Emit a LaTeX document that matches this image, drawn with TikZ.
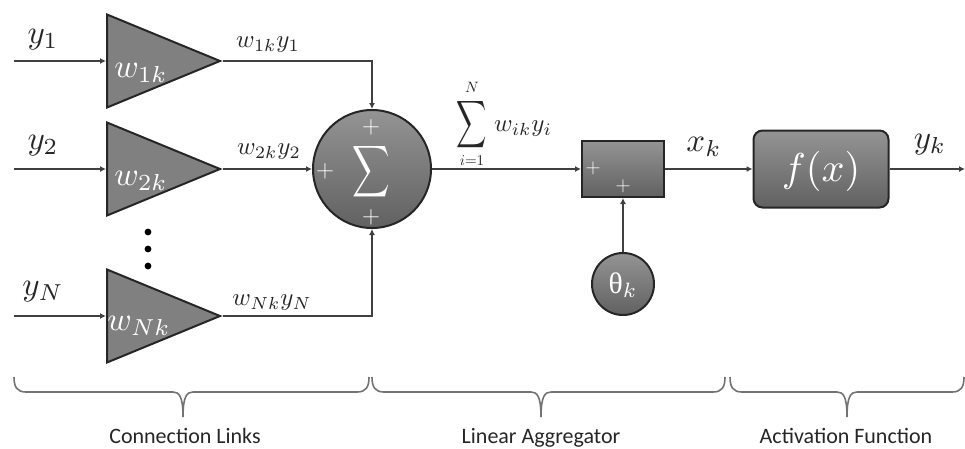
\documentclass[tikz,border=0pt]{standalone}
\usepackage{fontspec}
\usetikzlibrary{arrows.meta,shapes.geometric}
\newfontfamily\captionfont{Carlito}
\newfontfamily\thetafont{Liberation Serif}
\newcommand{\bracepath}[3]{%
    (#1,377) .. controls (#1,387) and (#1+3,392) .. (#1+12,392)
    -- (#2-10,392) .. controls (#2-4,392) and (#2,396) .. (#2,417)
    .. controls (#2,396) and (#2+4,392) .. (#2+10,392)
    -- (#3-12,392) .. controls (#3-3,392) and (#3,387) .. (#3,377)
}
\tikzset{
    block/.style={draw=black!85, line width=2pt, top color=black!42, bottom color=black!62, text=black!8, inner sep=0pt},
    amp/.style={block, top color=black!50, bottom color=black!50, isosceles triangle, isosceles triangle stretches, shape border rotate=0, minimum width=93pt, minimum height=113pt, anchor=lower side},
    wire/.style={draw=black!75, line width=1.4pt, -{Latex[length=6pt,width=6pt]}},
    inside/.style={text=white, inner sep=0pt, scale=3.3},
    outside/.style={text=black!85, inner sep=0pt, scale=3.3},
    gainlabel/.style={text=black!85, inner sep=0pt, scale=2.5},
    smalllabel/.style={text=black!85, inner sep=0pt, scale=1.5},
    plussign/.style={text=white, inner sep=0pt, font=\fontsize{24}{24}\selectfont},
    caption/.style={text=black!85, inner sep=0pt, anchor=base, font=\captionfont\fontsize{22}{22}\selectfont},
    bracket/.style={draw=black!55, line width=1.6pt},
}
\begin{document}
\begin{tikzpicture}[x=1pt, y=-1pt]
    \useasboundingbox (0,0) rectangle (965,448);

    % Connection links
    \foreach \idx/\yy/\lbly/\gainx/\gainy/\wx/\wy in {
        1/61/40/268/45/141/73,
        2/169/146/269/152/141/181,
        N/316/292/272/303/139/326
    } {
        \node[amp] (amp\idx) at (106,\yy) {};
        \coordinate (in\idx) at (14,\yy);
        \draw[wire] (in\idx) -- (amp\idx.lower side);
        \node[outside] (input\idx) at (43,\lbly) {$y_{\idx}$};
        \node[inside] (weight\idx) at (\wx,\wy) {$w_{\idx k}$};
        \node[gainlabel] (gain\idx) at (\gainx,\gainy) {$w_{\idx k}y_{\idx}$};
    }
    \foreach \yy [count=\i] in {232,249,266} {
        \fill (148,\yy) circle (3.4pt);
    }

    % Linear aggregator
    \node[block, circle, minimum size=118pt] (sum) at (372,169) {};
    \node[text=white, inner sep=0pt, xscale=2.6, yscale=3.6] (sumsign) at (371,172) {$\displaystyle\sum$};
    \node[plussign] (plustop) at (371,127) {$+$};
    \node[plussign] (plusleft) at (325,171) {$+$};
    \node[plussign] (plusbottom) at (371,217) {$+$};
    \draw[wire] (amp1.apex) -| (sum.north);
    \draw[wire] (amp2.apex) -- (sum.west);
    \draw[wire] (ampN.apex) -| (sum.south);

    \node[text=black!85, inner sep=0pt, xscale=2.1, yscale=3.3] (total) at (472,125) {$\displaystyle\sum$};
    \node[smalllabel] (upper) at (472,87) {$N$};
    \node[smalllabel] (lower) at (472,161) {$i{=}1$};
    \node[gainlabel] (totallabel) at (523,129) {$w_{ik}y_i$};

    \node[block, minimum width=82pt, minimum height=56pt] (adder) at (623,169) {};
    \node[plussign, font=\fontsize{20}{20}\selectfont] (plusa) at (593,168) {$+$};
    \node[plussign, font=\fontsize{20}{20}\selectfont] (plusb) at (623,186) {$+$};
    \node[block, circle, minimum size=62pt] (bias) at (623,284) {};
    \node[inside, scale=0.9] (biaslabel) at (623,285) {{\thetafont θ}$_k$};
    \draw[wire] (sum.east) -- (adder.west);
    \draw[wire] (bias.north) -- (adder.south);

    % Activation function
    \node[block, rounded corners=9pt, minimum width=135pt, minimum height=77pt] (activation) at (821,169) {};
    \node[inside, scale=1.22] (fx) at (821,171) {$f(x)$};
    \node[outside] (xlabel) at (704,147) {$x_k$};
    \node[outside] (ylabel) at (930,145) {$y_k$};
    \coordinate (out) at (965,169);
    \draw[wire] (adder.east) -- (activation.west);
    \draw[wire] (activation.east) -- (out);

    % Braces
    \draw[bracket] \bracepath{14}{183}{369};
    \draw[bracket] \bracepath{372}{541}{725};
    \draw[bracket] \bracepath{730}{847}{964};
    \node[caption] (linkstext) at (185,443) {Connection Links};
    \node[caption] (aggtext) at (541,443) {Linear Aggregator};
    \node[caption] (acttext) at (846,443) {Activation Function};
\end{tikzpicture}
\end{document}
